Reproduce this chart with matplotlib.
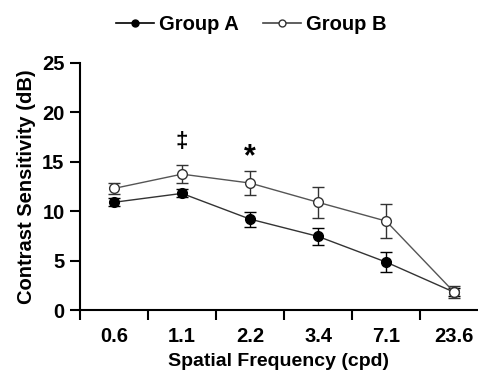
import matplotlib
matplotlib.use("Agg")
import matplotlib.pyplot as plt
from matplotlib.lines import Line2D
import numpy as np

plt.rcParams['font.family'] = ['Liberation Sans', 'DejaVu Sans']
plt.rcParams['font.weight'] = 'bold'

freqs = ['0.6', '1.1', '2.2', '3.4', '7.1', '23.6']
group_a = [10.9, 11.8, 9.2, 7.45, 4.85, 1.8]
group_a_err = [0.4, 0.4, 0.75, 0.9, 1.0, 0.4]
group_b = [12.3, 13.75, 12.85, 10.9, 9.0, 1.8]
group_b_err = [0.6, 0.9, 1.2, 1.55, 1.75, 0.6]
marks = {1: '\u2021', 2: '*'}

fig = plt.figure(figsize=(4.78, 3.76), dpi=100)
ax = fig.add_axes([0.167, 0.1755, 0.833, 0.657])

x = np.arange(len(freqs))
ax.errorbar(x, group_a, yerr=group_a_err, color='#333333', lw=1, marker='o',
            ms=7, mfc='black', mec='black', ecolor='black', elinewidth=1,
            capsize=4, capthick=1, zorder=3)
ax.errorbar(x, group_b, yerr=group_b_err, color='#555555', lw=1, marker='o',
            ms=7, mfc='white', mec='#333333', ecolor='#333333', elinewidth=1,
            capsize=4, capthick=1, zorder=3)

for i, s in marks.items():
    top = group_b[i] + group_b_err[i]
    if s == '*':
        ax.text(i, top - 0.1, s, ha='center', va='bottom', fontsize=22, fontweight='bold')
    else:
        ax.text(i, top + 1.3, s, ha='center', va='bottom', fontsize=16, fontweight='bold')

ax.set_xlim(-0.5, 5.35)
ax.set_ylim(0, 25)
ax.set_yticks([0, 5, 10, 15, 20, 25])
ax.set_xticks(x)
ax.set_xticklabels(freqs)
ax.set_xticks(np.arange(-0.5, 5, 1), minor=True)
ax.tick_params(axis='x', which='major', length=0, labelsize=14.5, pad=12)
ax.tick_params(axis='x', which='minor', length=7, width=1.5, direction='out')
ax.tick_params(axis='y', length=7, width=1.5, labelsize=14.5, pad=4)

for side in ['top', 'right']:
    ax.spines[side].set_visible(False)
for side in ['left', 'bottom']:
    ax.spines[side].set_linewidth(1.5)

ax.set_xlabel('Spatial Frequency (cpd)', fontsize=14, fontweight='bold', labelpad=5)
ax.set_ylabel('Contrast Sensitivity (dB)', fontsize=14.5, fontweight='bold', labelpad=4)

handles = [
    Line2D([], [], color='black', lw=1.2, marker='o', ms=5, mfc='black', mec='black'),
    Line2D([], [], color='#444444', lw=1.2, marker='o', ms=5, mfc='white', mec='#333333'),
]
fig.legend(handles, ['Group A', 'Group B'], loc='center', bbox_to_anchor=(0.526, 0.935),
           ncol=2, frameon=False, fontsize=14.5, handlelength=1.9,
           columnspacing=1.2, handletextpad=0.25)

fig.savefig('out.png', dpi=100)
